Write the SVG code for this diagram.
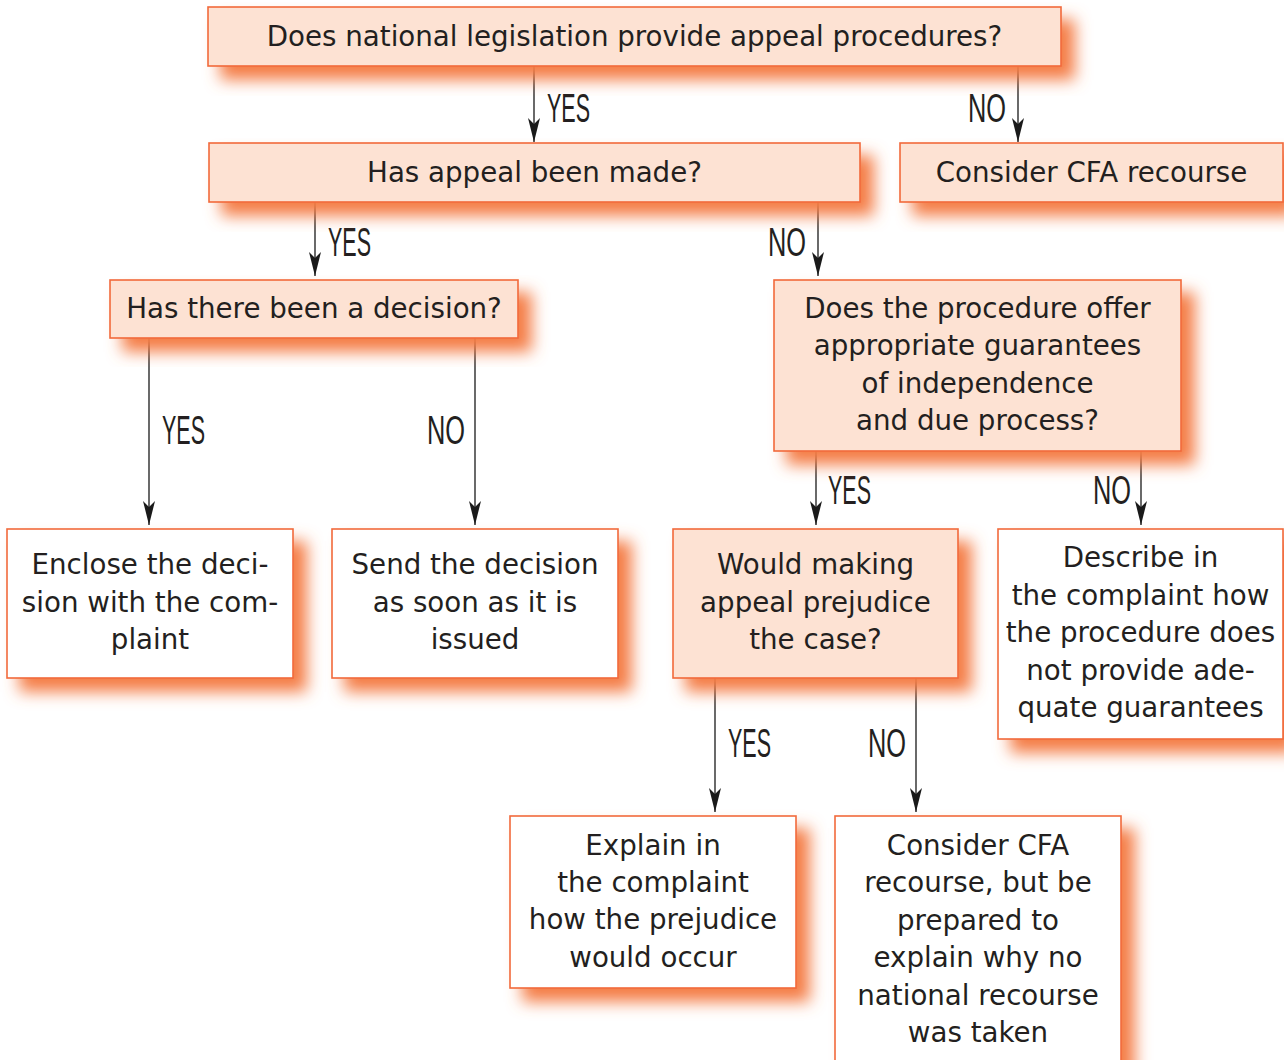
<svg xmlns="http://www.w3.org/2000/svg" width="1284" height="1060" viewBox="0 0 1284 1060">
<defs>
<filter id="sh" x="-15%" y="-30%" width="140%" height="180%">
<feGaussianBlur in="SourceAlpha" stdDeviation="8" result="b"/>
<feOffset in="b" dx="13" dy="13" result="o"/>
<feFlood flood-color="#f47c45" flood-opacity="1"/>
<feComposite in2="o" operator="in" result="s"/>
<feMerge><feMergeNode in="s"/><feMergeNode in="SourceGraphic"/></feMerge>
</filter>
<marker id="ah" viewBox="0 0 24 12" markerWidth="24" markerHeight="12" refX="24" refY="6" orient="auto" markerUnits="userSpaceOnUse">
<path d="M0,0 L24,6 L0,12 L6,6 Z" fill="#1a1a1a"/>
</marker>
</defs>
<style>
.q{fill:#fde2d3;stroke:#f26a3b;stroke-width:1.6;filter:url(#sh)}
.a{fill:#ffffff;stroke:#f26a3b;stroke-width:1.6;filter:url(#sh)}
.t{font-family:"DejaVu Sans","Liberation Sans",sans-serif;font-size:27.7px;fill:#231f20;text-anchor:middle}
.l{font-family:"Liberation Sans",Arial,sans-serif;font-size:40px;fill:#231f20}
.c{stroke:#1a1a1a;stroke-width:1.3;fill:none;marker-end:url(#ah)}
</style>
<rect width="1284" height="1060" fill="#ffffff"/>
<g id="connectors">
<line class="c" x1="534" y1="66" x2="534" y2="142"/>
<line class="c" x1="1018" y1="66" x2="1018" y2="142"/>
<line class="c" x1="315" y1="202" x2="315" y2="276"/>
<line class="c" x1="818" y1="202" x2="818" y2="276"/>
<line class="c" x1="149" y1="338" x2="149" y2="525"/>
<line class="c" x1="475" y1="338" x2="475" y2="525"/>
<line class="c" x1="816" y1="451" x2="816" y2="525"/>
<line class="c" x1="1141" y1="451" x2="1141" y2="525"/>
<line class="c" x1="715" y1="678" x2="715" y2="812"/>
<line class="c" x1="916" y1="678" x2="916" y2="812"/>
<text class="l" x="547" y="122" textLength="43" lengthAdjust="spacingAndGlyphs">YES</text>
<text class="l" x="968" y="122" textLength="38" lengthAdjust="spacingAndGlyphs">NO</text>
<text class="l" x="328" y="256" textLength="43" lengthAdjust="spacingAndGlyphs">YES</text>
<text class="l" x="768" y="256" textLength="38" lengthAdjust="spacingAndGlyphs">NO</text>
<text class="l" x="162" y="444" textLength="43" lengthAdjust="spacingAndGlyphs">YES</text>
<text class="l" x="427" y="444" textLength="38" lengthAdjust="spacingAndGlyphs">NO</text>
<text class="l" x="828" y="504" textLength="43" lengthAdjust="spacingAndGlyphs">YES</text>
<text class="l" x="1093" y="504" textLength="38" lengthAdjust="spacingAndGlyphs">NO</text>
<text class="l" x="728" y="757" textLength="43" lengthAdjust="spacingAndGlyphs">YES</text>
<text class="l" x="868" y="757" textLength="38" lengthAdjust="spacingAndGlyphs">NO</text>
</g>
<g id="n1"><rect class="q" x="208" y="7" width="853" height="59"/>
<text class="t" x="634.5" y="46">Does national legislation provide appeal procedures?</text></g>
<g id="n2"><rect class="q" x="209" y="143" width="651" height="59"/>
<text class="t" x="534.5" y="182">Has appeal been made?</text></g>
<g id="n3"><rect class="q" x="900" y="143" width="383" height="59"/>
<text class="t" x="1091.5" y="182">Consider CFA recourse</text></g>
<g id="n4"><rect class="q" x="110" y="280" width="408" height="58"/>
<text class="t" x="314" y="318">Has there been a decision?</text></g>
<g id="n5"><rect class="q" x="774" y="280" width="407" height="171"/>
<text class="t" x="977.5" y="318">Does the procedure offer</text>
<text class="t" x="977.5" y="355">appropriate guarantees</text>
<text class="t" x="977.5" y="393">of independence</text>
<text class="t" x="977.5" y="430">and due process?</text></g>
<g id="n6"><rect class="a" x="7" y="529" width="286" height="149"/>
<text class="t" x="150" y="574">Enclose the deci-</text>
<text class="t" x="150" y="612">sion with the com-</text>
<text class="t" x="150" y="649">plaint</text></g>
<g id="n7"><rect class="a" x="332" y="529" width="286" height="149"/>
<text class="t" x="475" y="574">Send the decision</text>
<text class="t" x="475" y="612">as soon as it is</text>
<text class="t" x="475" y="649">issued</text></g>
<g id="n8"><rect class="q" x="673" y="529" width="285" height="149"/>
<text class="t" x="815.5" y="574">Would making</text>
<text class="t" x="815.5" y="612">appeal prejudice</text>
<text class="t" x="815.5" y="649">the case?</text></g>
<g id="n9"><rect class="a" x="998" y="529" width="285" height="210"/>
<text class="t" x="1140.5" y="567">Describe in</text>
<text class="t" x="1140.5" y="605">the complaint how</text>
<text class="t" x="1140.5" y="642">the procedure does</text>
<text class="t" x="1140.5" y="680">not provide ade-</text>
<text class="t" x="1140.5" y="717">quate guarantees</text></g>
<g id="n10"><rect class="a" x="510" y="816" width="286" height="172"/>
<text class="t" x="653" y="855">Explain in</text>
<text class="t" x="653" y="892">the complaint</text>
<text class="t" x="653" y="929">how the prejudice</text>
<text class="t" x="653" y="967">would occur</text></g>
<g id="n11"><rect class="a" x="835" y="816" width="286" height="270"/>
<text class="t" x="978" y="855">Consider CFA</text>
<text class="t" x="978" y="892">recourse, but be</text>
<text class="t" x="978" y="930">prepared to</text>
<text class="t" x="978" y="967">explain why no</text>
<text class="t" x="978" y="1005">national recourse</text>
<text class="t" x="978" y="1042">was taken</text></g>
</svg>
